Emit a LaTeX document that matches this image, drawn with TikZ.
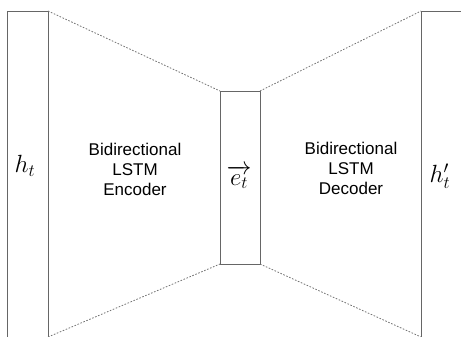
\documentclass[tikz,border=0pt]{standalone}
\usepackage{fontspec}
\setmainfont{Liberation Sans}
\usepackage{amsmath}
\begin{document}
\begin{tikzpicture}[x=1pt,y=-1pt,
  boxline/.style={draw=black!60,line width=0.8pt},
  dashline/.style={draw=black!55,line width=0.8pt,dash pattern=on 1.6pt off 1.6pt},
  label/.style={align=center,font=\fontsize{17}{20}\selectfont,inner sep=0pt},
  mathlab/.style={font=\fontsize{27}{30}\selectfont,inner sep=0pt}]
\useasboundingbox (0,0) rectangle (461,337);
% left block
\coordinate (lbl) at (7,337);
\coordinate (ltl) at (7,11);
\coordinate (ltr) at (48,11);
\coordinate (lbr) at (48,337);
% middle block
\coordinate (mtl) at (220,91);
\coordinate (mtr) at (260,91);
\coordinate (mbl) at (220,264);
\coordinate (mbr) at (260,264);
% right block
\coordinate (rtr) at (461,11);
\coordinate (rtl) at (421,11);
\coordinate (rbl) at (421,337);
\draw[boxline] (lbl) -- (ltl) -- (ltr) -- (lbr);
\draw[boxline] (mtl) -- (mtr) -- (mbr) -- (mbl) -- cycle;
\draw[boxline] (rtr) -- (rtl) -- (rbl);
\draw[dashline] (ltr) -- (mtl);
\draw[dashline] (lbr) -- (mbl);
\draw[dashline] (mtr) -- (rtl);
\draw[dashline] (mbr) -- (rbl);
\node[mathlab] (ht) at (25,166) {$h_t$};
\node[mathlab,font=\fontsize{23}{26}\selectfont] (et) at (239,177) {$\overrightarrow{e_t}$};
\node[mathlab] (hpt) at (440,176) {$h'_t$};
\node[label] (enc) at (135,169.5) {Bidirectional\\LSTM\\Encoder};
\node[label] (dec) at (351,168.5) {Bidirectional\\LSTM\\Decoder};
\end{tikzpicture}
\end{document}
